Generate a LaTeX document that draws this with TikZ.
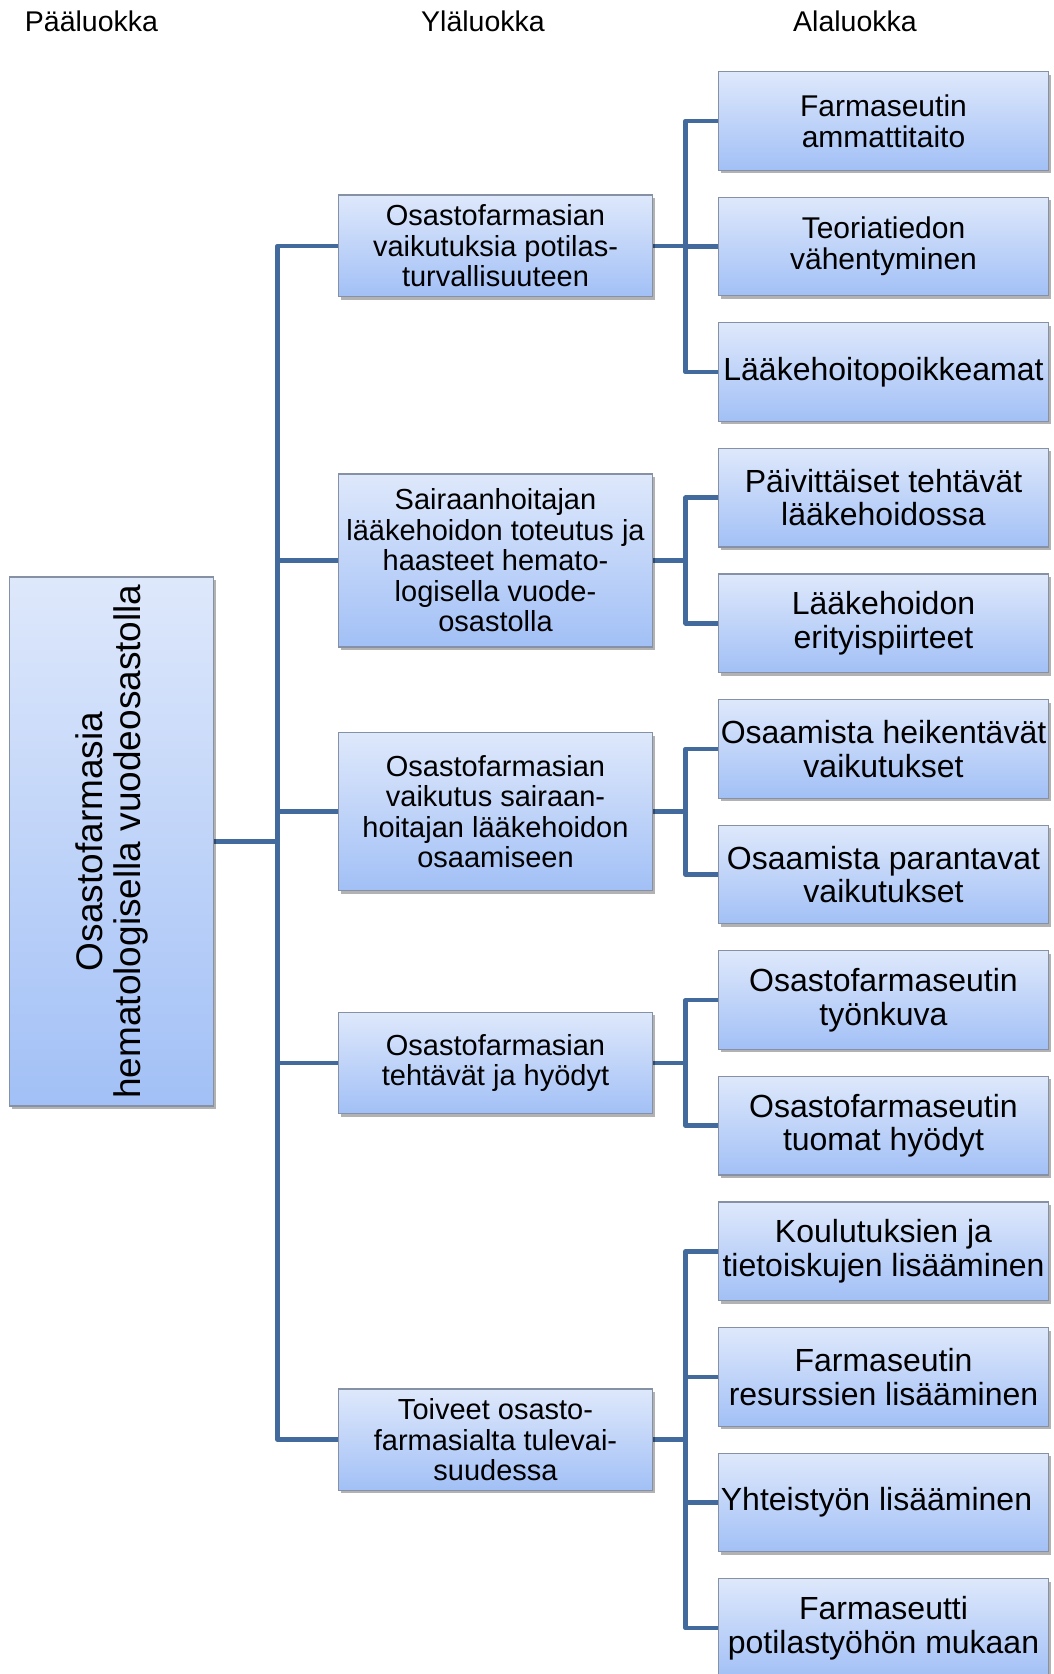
\documentclass[tikz,border=0pt]{standalone}
\usepackage{fontspec}
\setmainfont{Liberation Sans}
\usetikzlibrary{shadows,backgrounds}

\definecolor{connblue}{RGB}{66,106,156}
\definecolor{boxtop}{RGB}{222,232,251}
\definecolor{boxbot}{RGB}{162,192,246}
\definecolor{boxline}{RGB}{135,145,165}

\tikzset{
  cbox/.style={draw=boxline, line width=1.2pt, top color=boxtop, bottom color=boxbot,
    inner sep=0pt, align=center,
    drop shadow={shadow xshift=2pt, shadow yshift=-3pt, opacity=0.3, fill=black}},
  mainbox/.style={cbox, minimum width=204pt, minimum height=529pt},
  midbox/.style={cbox, minimum width=314pt, font=\fontsize{29}{30.5}\selectfont},
  subbox/.style={cbox, minimum width=330pt, minimum height=98.5pt, font=\fontsize{32}{33.5}\selectfont},
  subboxs/.style={subbox, font=\fontsize{30}{31}\selectfont},
  header/.style={font=\fontsize{28.5}{30}\selectfont, anchor=base},
  conn/.style={draw=connblue, line width=4.5pt, line join=round},
}

\begin{document}
\begin{tikzpicture}[x=1pt, y=-1pt]
\path[use as bounding box] (0,0) rectangle (1053,1674);
\clip (0,0) rectangle (1053,1674);

% column headings
\node[header] (h1) at (91.5,31.7) {Pääluokka};
\node[header] (h2) at (483,31.7) {Yläluokka};
\node[header] (h3) at (855,31.7) {Alaluokka};

% main category
\node[mainbox] (main) at (111.5,841.5) {};
\node[rotate=90, align=center, font=\fontsize{37}{38}\selectfont] (maintxt) at (main.center)
  {Osastofarmasia\\hematologisella vuodeosastolla};

% upper categories
\node[midbox, minimum height=101.5pt] (m1) at (495.5,245.8)
  {Osastofarmasian\\vaikutuksia potilas-\\turvallisuuteen};
\node[midbox, minimum height=173pt] (m2) at (495.5,560.5)
  {Sairaanhoitajan\\lääkehoidon toteutus ja\\haasteet hemato-\\logisella vuode-\\osastolla};
\node[midbox, minimum height=158pt] (m3) at (495.5,811.7)
  {Osastofarmasian\\vaikutus sairaan-\\hoitajan lääkehoidon\\osaamiseen};
\node[midbox, minimum height=101.5pt] (m4) at (495.5,1062.9)
  {Osastofarmasian\\tehtävät ja hyödyt};
\node[midbox, minimum height=101.5pt] (m5) at (495.5,1439.7)
  {Toiveet osasto-\\farmasialta tulevai-\\suudessa};

% subcategories
\node[subboxs] (r0)  at (883.5,120.9)  {Farmaseutin\\ammattitaito};
\node[subboxs] (r1)  at (883.5,246.5)  {Teoriatiedon\\vähentyminen};
\node[subbox]  (r2)  at (883.5,372.1)  {Lääkehoitopoikkeamat};
\node[subbox]  (r3)  at (883.5,497.7)  {Päivittäiset tehtävät\\lääkehoidossa};
\node[subbox]  (r4)  at (883.5,623.3)  {Lääkehoidon\\erityispiirteet};
\node[subbox]  (r5)  at (883.5,748.9)  {Osaamista heikentävät\\vaikutukset};
\node[subbox]  (r6)  at (883.5,874.5)  {Osaamista parantavat\\vaikutukset};
\node[subbox]  (r7)  at (883.5,1000.1) {Osastofarmaseutin\\työnkuva};
\node[subbox]  (r8)  at (883.5,1125.7) {Osastofarmaseutin\\tuomat hyödyt};
\node[subbox]  (r9)  at (883.5,1251.3) {Koulutuksien ja\\tietoiskujen lisääminen};
\node[subbox]  (r10) at (883.5,1376.9) {Farmaseutin\\resurssien lisääminen};
\node[subbox]  (r11) at (883.5,1502.5) {Yhteistyön lisääminen\kern14pt};
\node[subbox]  (r12) at (883.5,1628.1) {Farmaseutti\\potilastyöhön mukaan};

% elbow connectors behind the boxes
\begin{pgfonlayer}{background}
  \fill[white] (0,0) rectangle (1053,1674);
  \foreach \m in {m1,m2,m3,m4,m5}
    \draw[conn] (main.east) -- ++(63.5,0) |- (\m.west);
  \foreach \r in {r0,r1,r2}
    \draw[conn] (m1.east) -- ++(32.5,0) |- (\r.west);
  \foreach \r in {r3,r4}
    \draw[conn] (m2.east) -- ++(32.5,0) |- (\r.west);
  \foreach \r in {r5,r6}
    \draw[conn] (m3.east) -- ++(32.5,0) |- (\r.west);
  \foreach \r in {r7,r8}
    \draw[conn] (m4.east) -- ++(32.5,0) |- (\r.west);
  \foreach \r in {r9,r10,r11,r12}
    \draw[conn] (m5.east) -- ++(32.5,0) |- (\r.west);
\end{pgfonlayer}
\end{tikzpicture}
\end{document}
